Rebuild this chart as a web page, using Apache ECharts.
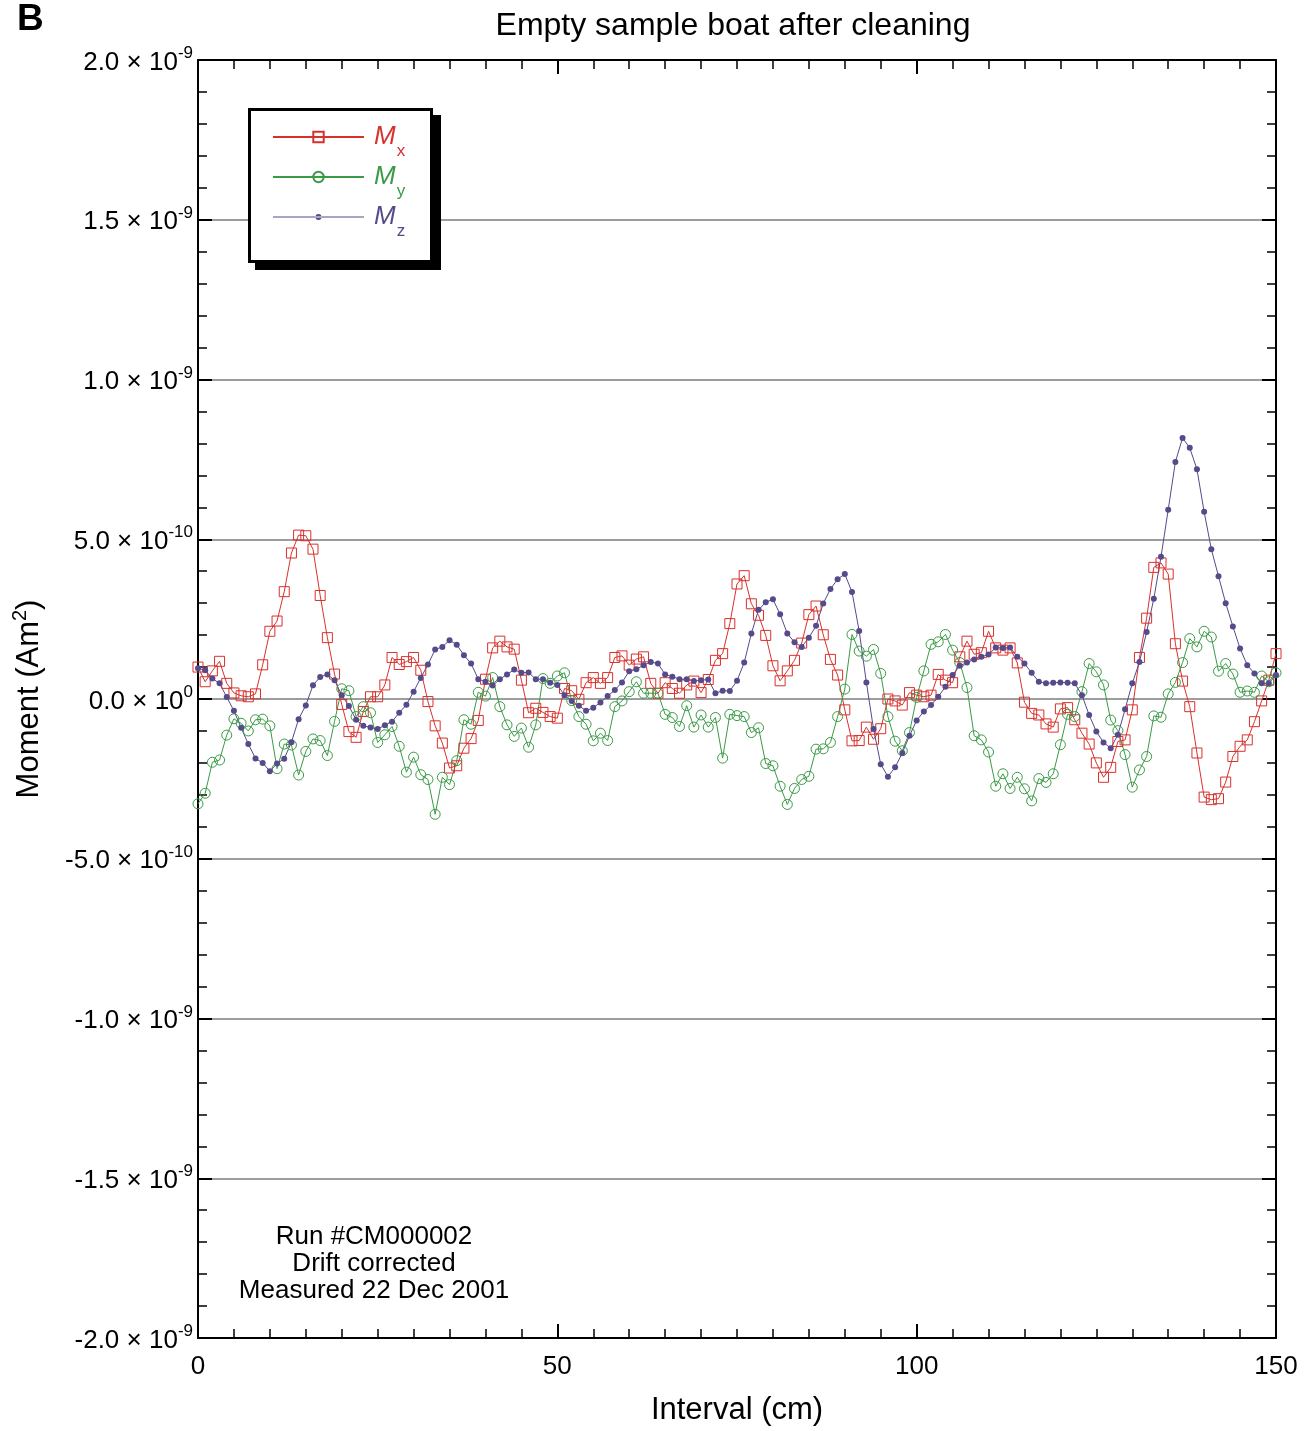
<!DOCTYPE html>
<html>
<head>
<meta charset="utf-8">
<script src="https://cdn.jsdelivr.net/npm/echarts@6/dist/echarts.min.js"></script>
<style>
  html, body { margin: 0; padding: 0; background: #fff; }
  #chart { width: 1315px; height: 1431px; }
</style>
</head>
<body>
<div id="chart"></div>
<script>
// Measurement positions along the boat, cm (one reading per centimetre)
const intervalCm = [];
for (let i = 0; i <= 150; i++) intervalCm.push(i);

// Magnetic moment components, in units of 1e-10 Am²
const mx = [
  1.00, 0.54, 0.88, 1.18, 0.49, 0.19, 0.10, 0.07, 0.16, 1.07,
  2.12, 2.44, 3.36, 4.57, 5.13, 5.11, 4.69, 3.24, 1.92, 0.78,
  -0.17, -1.02, -1.20, -0.39, 0.07, 0.07, 0.44, 1.30, 1.08, 1.17,
  1.30, 0.90, -0.08, -0.84, -1.38, -2.16, -2.09, -1.54, -1.24, -0.67,
  0.62, 1.60, 1.81, 1.63, 1.56, 0.59, -0.43, -0.29, -0.42, -0.55,
  -0.60, 0.33, 0.26, -0.01, 0.51, 0.67, 0.49, 0.67, 1.30, 1.35,
  1.06, 1.25, 1.32, 0.49, 0.18, 0.51, 0.33, 0.18, 0.44, 0.56,
  0.20, 0.61, 1.21, 1.42, 2.36, 3.60, 3.86, 2.98, 2.62, 1.99,
  1.04, 0.57, 0.88, 1.21, 1.75, 2.64, 2.91, 2.01, 1.24, 0.75,
  -0.34, -1.31, -1.30, -0.88, -1.26, -0.93, 0.00, -0.06, -0.19, 0.20,
  0.12, 0.07, 0.12, 0.77, 0.59, 0.51, 1.32, 1.81, 1.40, 1.45,
  2.12, 1.60, 1.53, 1.60, 1.13, -0.10, -0.45, -0.50, -0.78, -0.88,
  -0.31, -0.27, -0.65, -1.07, -1.41, -2.00, -2.45, -2.14, -1.33, -1.28,
  -0.34, 1.30, 2.53, 4.12, 4.26, 3.91, 1.73, 0.56, -0.24, -1.69,
  -3.07, -3.15, -3.12, -2.60, -1.80, -1.48, -1.28, -0.71, -0.06, 0.59,
  1.42
];
const my = [
  -3.28, -2.95, -1.98, -1.91, -1.13, -0.62, -0.76, -1.00, -0.65, -0.63,
  -0.84, -2.18, -1.41, -1.44, -2.38, -1.64, -1.25, -1.30, -1.77, -0.70,
  0.32, 0.26, -0.55, -0.24, -0.43, -1.36, -1.12, -0.86, -1.48, -2.29,
  -1.82, -2.37, -2.52, -3.61, -2.45, -2.68, -1.93, -0.65, -0.79, 0.21,
  0.09, 0.67, -0.24, -0.81, -1.17, -0.91, -1.51, -0.81, 0.64, 0.49,
  0.72, 0.82, -0.05, -0.55, -0.79, -1.31, -1.07, -1.30, -0.24, -0.06,
  0.23, 0.54, 0.18, 0.18, 0.18, -0.48, -0.58, -0.86, -0.21, -0.88,
  -0.50, -0.88, -0.58, -1.85, -0.48, -0.52, -0.55, -1.05, -0.90, -2.02,
  -2.09, -2.73, -3.30, -2.80, -2.52, -2.42, -1.57, -1.56, -1.36, -0.55,
  0.31, 2.02, 1.50, 1.34, 1.55, 0.80, -0.55, -1.32, -1.62, -1.05,
  0.05, 0.88, 1.71, 1.79, 2.02, 1.53, 1.14, 0.36, -1.15, -1.28,
  -1.66, -2.73, -2.34, -2.80, -2.45, -2.81, -3.19, -2.49, -2.61, -2.34,
  -1.43, -0.48, -0.55, 0.23, 1.11, 0.85, 0.44, -0.66, -0.99, -1.74,
  -2.76, -2.22, -1.80, -0.53, -0.57, 0.16, 0.52, 1.14, 1.89, 1.63,
  2.12, 1.94, 0.87, 1.11, 0.78, 0.21, 0.25, 0.21, 0.72, 0.54,
  0.82
];
const mz = [
  0.96, 0.90, 0.64, 0.49, 0.06, -0.37, -0.90, -1.41, -1.86, -2.00,
  -2.26, -2.02, -1.87, -1.35, -0.63, -0.20, 0.43, 0.69, 0.77, 0.59,
  0.12, -0.22, -0.65, -0.84, -0.89, -0.94, -0.82, -0.71, -0.43, -0.18,
  0.23, 0.66, 1.08, 1.55, 1.63, 1.84, 1.70, 1.37, 1.11, 0.62,
  0.54, 0.42, 0.62, 0.77, 0.92, 0.82, 0.83, 0.62, 0.62, 0.51,
  0.44, 0.12, -0.06, -0.21, -0.37, -0.27, -0.11, 0.09, 0.28, 0.52,
  0.87, 0.93, 1.06, 1.16, 1.11, 0.77, 0.70, 0.62, 0.62, 0.56,
  0.59, 0.61, 0.18, 0.26, 0.25, 0.57, 1.14, 2.05, 2.79, 3.03,
  3.12, 2.65, 2.05, 1.78, 1.63, 1.92, 2.29, 2.99, 3.44, 3.75,
  3.91, 3.35, 2.13, 0.52, -0.94, -2.04, -2.43, -2.14, -1.69, -1.15,
  -0.67, -0.39, -0.19, 0.07, 0.38, 0.75, 1.04, 1.14, 1.24, 1.32,
  1.39, 1.61, 1.60, 1.61, 1.32, 1.11, 0.82, 0.54, 0.49, 0.51,
  0.52, 0.51, 0.49, 0.12, -0.50, -1.02, -1.36, -1.54, -1.12, -0.32,
  0.49, 1.16, 2.10, 3.14, 4.45, 5.92, 7.42, 8.17, 7.86, 7.19,
  5.86, 4.69, 3.84, 3.00, 2.27, 1.58, 1.06, 0.80, 0.49, 0.49,
  0.75
];

// Y tick labels written as mantissa × 10^exponent
const yTickValues   = [-20, -15, -10, -5, 0, 5, 10, 15, 20];
const yTickMantissa = ['-2.0', '-1.5', '-1.0', '-5.0', '0.0', '5.0', '1.0', '1.5', '2.0'];
const yTickExponent = ['-9', '-9', '-9', '-10', '0', '-10', '-9', '-9', '-9'];

const FONT = '"Liberation Sans", Arial, Helvetica, sans-serif';
const RED = '#d8312c';
const GREEN = '#3a9a45';
const PURPLE = '#564a8a';

const toPairs = arr => intervalCm.map((x, i) => [x, arr[i]]);

// Legend icon for Mz: thin line with a small dot in the middle
const mzIcon = 'path://M0,0h0.01v0.01h-0.01z M0,5.9h91v1.2h-91z M42.5,6.5a3,3 0 1,0 6,0a3,3 0 1,0 -6,0z M91,12.99h0.01v0.01h-0.01z';

const tickCommon = {
  axisLine: { show: true, onZero: false, lineStyle: { color: '#000', width: 2 } },
  axisTick: { show: true, inside: true, length: 14, lineStyle: { color: '#000', width: 2 } }
};

const chart = echarts.init(document.getElementById('chart'), null, { renderer: 'canvas' });

chart.setOption({
  animation: false,
  backgroundColor: '#fff',
  title: {
    text: 'Empty sample boat after cleaning',
    left: 733,
    top: 10,
    padding: 0,
    textAlign: 'center',
    textStyle: { fontFamily: FONT, fontSize: 32, fontWeight: 'normal', color: '#000' }
  },
  grid: { left: 198, right: 39, top: 60, bottom: 87, containLabel: false },
  xAxis: [
    {
      type: 'value', min: 0, max: 150, interval: 50, position: 'bottom',
      ...tickCommon,
      minorTick: { show: true, splitNumber: 10, length: 9, lineStyle: { color: '#000', width: 1.5 } },
      splitLine: { show: false },
      axisLabel: { fontFamily: FONT, fontSize: 26, color: '#000', margin: 16 },
      name: 'Interval (cm)', nameLocation: 'middle', nameGap: 57,
      nameTextStyle: { fontFamily: FONT, fontSize: 31, color: '#000' }
    },
    {
      type: 'value', min: 0, max: 150, interval: 50, position: 'top',
      ...tickCommon,
      minorTick: { show: true, splitNumber: 10, length: 9, lineStyle: { color: '#000', width: 1.5 } },
      splitLine: { show: false },
      axisLabel: { show: false }
    }
  ],
  yAxis: [
    {
      type: 'value', min: -20, max: 20, interval: 5, position: 'left',
      ...tickCommon,
      minorTick: { show: true, splitNumber: 5, length: 9, lineStyle: { color: '#000', width: 1.5 } },
      splitLine: { show: true, lineStyle: { color: '#7c7c7c', width: 1.5 } },
      axisLabel: {
        margin: 5,
        formatter: v => {
          const k = yTickValues.indexOf(Math.round(v));
          return '{b|' + yTickMantissa[k] + ' \u00d7 10}{e|' + yTickExponent[k] + '}';
        },
        rich: {
          b: { fontFamily: FONT, fontSize: 26, color: '#000', lineHeight: 26, padding: [5, 0, 0, 0] },
          e: { fontFamily: FONT, fontSize: 17, color: '#000', lineHeight: 17, padding: [0, 0, 13, 0] }
        }
      },
      name: '{a|Moment (Am}{s|2}{a|)}', nameLocation: 'middle', nameGap: 153, nameRotate: 90,
      nameTextStyle: {
        rich: {
          a: { fontFamily: FONT, fontSize: 31, color: '#000', lineHeight: 31 },
          s: { fontFamily: FONT, fontSize: 20, color: '#000', lineHeight: 20, padding: [0, 0, 18, 0] }
        }
      }
    },
    {
      type: 'value', min: -20, max: 20, interval: 5, position: 'right',
      ...tickCommon,
      minorTick: { show: true, splitNumber: 5, length: 9, lineStyle: { color: '#000', width: 1.5 } },
      splitLine: { show: false },
      axisLabel: { show: false }
    }
  ],
  legend: {
    orient: 'vertical',
    left: 272,
    top: 114.5,
    padding: 0,
    itemWidth: 91,
    itemHeight: 13,
    itemGap: -5,
    z: 10,
    selectedMode: false,
    data: [{ name: 'Mx' }, { name: 'My' }, { name: 'Mz', icon: mzIcon }],
    formatter: name => {
      const k = name.charAt(1);
      return '{m' + k + '|M}{s' + k + '|' + k + '}';
    },
    textStyle: {
      rich: {
        mx: { fontFamily: FONT, fontSize: 26, fontStyle: 'italic', color: RED, lineHeight: 26, padding: [0, 0, 0, 5] },
        sx: { fontFamily: FONT, fontSize: 17, color: RED, lineHeight: 17, padding: [28, 0, 0, 1] },
        my: { fontFamily: FONT, fontSize: 26, fontStyle: 'italic', color: GREEN, lineHeight: 26, padding: [0, 0, 0, 5] },
        sy: { fontFamily: FONT, fontSize: 17, color: GREEN, lineHeight: 17, padding: [28, 0, 0, 1] },
        mz: { fontFamily: FONT, fontSize: 26, fontStyle: 'italic', color: PURPLE, lineHeight: 26, padding: [0, 0, 0, 5] },
        sz: { fontFamily: FONT, fontSize: 17, color: PURPLE, lineHeight: 17, padding: [28, 0, 0, 1] }
      }
    }
  },
  graphic: [
    // panel label
    { type: 'text', x: 17, y: 1, z: 5,
      style: { text: 'B', font: 'bold 37px ' + FONT, fill: '#000', textVerticalAlign: 'top' } },
    // legend frame with drop shadow
    { type: 'rect', z: 5, shape: { x: 255, y: 115, width: 186, height: 155 }, style: { fill: '#000' } },
    { type: 'rect', z: 6, shape: { x: 249.5, y: 109.5, width: 182, height: 152 },
      style: { fill: '#fff', stroke: '#000', lineWidth: 3 } },
    // run notes
    { type: 'text', x: 374, y: 1223.5, z: 5,
      style: {
        text: 'Run #CM000002\nDrift corrected\nMeasured 22 Dec 2001',
        font: '26px ' + FONT, fill: '#000', textAlign: 'center', textVerticalAlign: 'top', lineHeight: 27
      } }
  ],
  series: [
    {
      name: 'Mx', type: 'line', xAxisIndex: 0, yAxisIndex: 0, data: toPairs(mx),
      symbol: 'rect', symbolSize: 10, showAllSymbol: true, silent: true,
      itemStyle: { color: 'rgba(0,0,0,0)', borderColor: RED, borderWidth: 1 },
      lineStyle: { color: RED, width: 1 },
      emphasis: { disabled: true }
    },
    {
      name: 'My', type: 'line', xAxisIndex: 0, yAxisIndex: 0, data: toPairs(my),
      symbol: 'circle', symbolSize: 10, showAllSymbol: true, silent: true,
      itemStyle: { color: 'rgba(0,0,0,0)', borderColor: GREEN, borderWidth: 1 },
      lineStyle: { color: GREEN, width: 1 },
      emphasis: { disabled: true }
    },
    {
      name: 'Mz', type: 'line', xAxisIndex: 0, yAxisIndex: 0, data: toPairs(mz),
      symbol: 'circle', symbolSize: 6, showAllSymbol: true, silent: true,
      itemStyle: { color: PURPLE },
      lineStyle: { color: PURPLE, width: 1 },
      emphasis: { disabled: true }
    }
  ]
});
</script>
</body>
</html>
